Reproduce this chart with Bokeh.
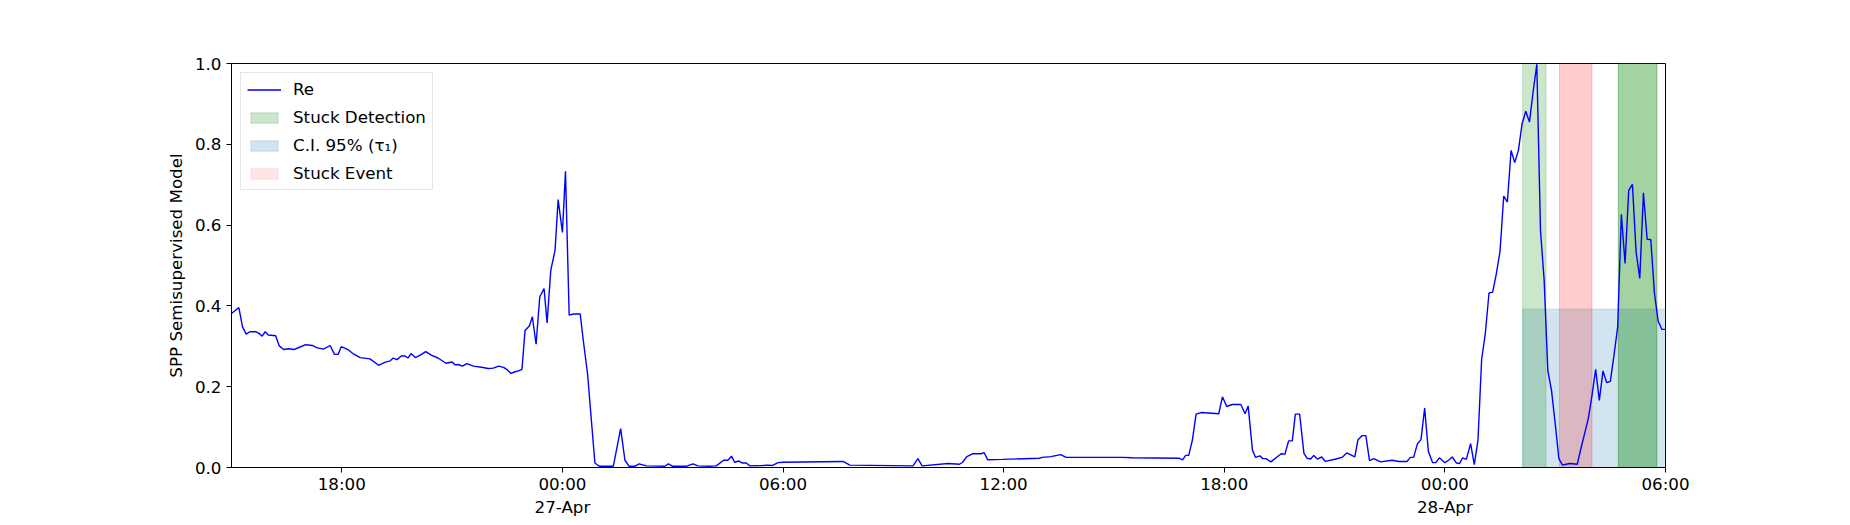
import pandas as pd
from bokeh.plotting import figure
from bokeh.models import (ColumnDataSource, Range1d, FixedTicker, NumeralTickFormatter,
                          Legend, LegendItem, Label)
from bokeh.embed import file_html
from bokeh.resources import INLINE

day26_times = ["15:00", "15:12", "15:18", "15:24", "15:30", "15:40", "15:45", "15:50", "15:55",
               "16:00", "16:12", "16:18", "16:25", "16:33", "16:42", "16:50", "17:01", "17:12",
               "17:20", "17:30", "17:41", "17:48", "17:54", "17:59", "18:11", "18:19", "18:30",
               "18:46", "19:00", "19:11", "19:19", "19:24", "19:30", "19:37", "19:43", "19:48",
               "19:53", "20:00", "20:08", "20:17", "20:26", "20:37", "20:50", "21:00", "21:05",
               "21:10", "21:17", "21:24", "21:35", "21:48", "21:59", "22:07", "22:16", "22:24",
               "22:29", "22:36", "22:43", "22:48", "22:54", "22:59", "23:06", "23:11", "23:17",
               "23:23", "23:30", "23:35", "23:41", "23:48", "23:53"]
day26_values = [0.381, 0.396, 0.348, 0.330, 0.336, 0.336, 0.332, 0.325, 0.336,
                0.328, 0.326, 0.301, 0.292, 0.294, 0.292, 0.297, 0.304, 0.302,
                0.296, 0.293, 0.302, 0.280, 0.280, 0.299, 0.291, 0.281, 0.272,
                0.269, 0.253, 0.261, 0.264, 0.271, 0.267, 0.276, 0.276, 0.271,
                0.282, 0.272, 0.278, 0.287, 0.278, 0.271, 0.258, 0.261, 0.254,
                0.255, 0.251, 0.257, 0.251, 0.248, 0.245, 0.246, 0.251, 0.248,
                0.243, 0.233, 0.237, 0.239, 0.243, 0.339, 0.350, 0.373, 0.305,
                0.422, 0.443, 0.358, 0.488, 0.538, 0.663]

day27_times = ["00:00", "00:05", "00:11", "00:18", "00:29", "00:34", "00:41", "00:53", "01:00",
               "01:23", "01:35", "01:42", "01:49", "01:58", "02:05", "02:17", "02:47", "02:53",
               "03:00", "03:22", "03:33", "03:41", "04:00", "04:11", "04:23", "04:30", "04:36",
               "04:41", "04:48", "04:54", "05:00", "05:06", "05:27", "05:35", "05:43", "05:52",
               "06:00", "07:38", "07:49", "09:32", "09:40", "09:47", "10:29", "10:48", "10:53",
               "11:00", "11:09", "11:23", "11:28", "11:34", "11:58", "12:58", "13:03", "13:17",
               "13:33", "13:42", "15:14", "15:30", "16:46", "16:52", "16:57", "17:02", "17:08",
               "17:14", "17:22", "17:51", "17:57", "18:04", "18:13", "18:27", "18:34", "18:39",
               "18:46", "18:51", "18:58", "19:03", "19:08", "19:16", "19:26", "19:33", "19:39",
               "19:45", "19:51", "19:56", "20:03", "20:10", "20:15", "20:21", "20:26", "20:32",
               "20:39", "20:45", "21:02", "21:12", "21:20", "21:33", "21:38", "21:45", "21:51",
               "21:57", "22:04", "22:15", "22:34", "22:45", "22:58", "23:04", "23:09", "23:15",
               "23:21", "23:27", "23:33", "23:40", "23:45", "23:51"]
day27_values = [0.582, 0.733, 0.377, 0.380, 0.380, 0.315, 0.232, 0.011, 0.003,
                0.003, 0.096, 0.018, 0.003, 0.003, 0.009, 0.004, 0.003, 0.009,
                0.003, 0.003, 0.009, 0.004, 0.003, 0.004, 0.018, 0.018, 0.028,
                0.013, 0.016, 0.011, 0.011, 0.004, 0.005, 0.006, 0.005, 0.012,
                0.013, 0.015, 0.006, 0.004, 0.022, 0.004, 0.010, 0.008, 0.013,
                0.027, 0.034, 0.034, 0.037, 0.019, 0.020, 0.023, 0.025, 0.027,
                0.032, 0.025, 0.025, 0.024, 0.023, 0.019, 0.030, 0.030, 0.068,
                0.132, 0.136, 0.133, 0.175, 0.151, 0.156, 0.156, 0.133, 0.152,
                0.043, 0.025, 0.029, 0.022, 0.022, 0.014, 0.026, 0.034, 0.033,
                0.066, 0.066, 0.132, 0.132, 0.035, 0.023, 0.021, 0.030, 0.021,
                0.026, 0.015, 0.021, 0.025, 0.036, 0.026, 0.068, 0.079, 0.079,
                0.017, 0.022, 0.014, 0.018, 0.015, 0.015, 0.025, 0.025, 0.058,
                0.069, 0.147, 0.040, 0.012, 0.012, 0.024]

day28_times = ["00:00", "00:06", "00:12", "00:19", "00:24", "00:29", "00:35", "00:42", "00:48",
               "00:54", "01:00", "01:06", "01:12", "01:18", "01:24", "01:30", "01:36", "01:42",
               "01:48", "01:54", "02:00", "02:06", "02:12", "02:18", "02:24", "02:30", "02:36",
               "02:42", "02:48", "02:54", "03:00", "03:06", "03:12", "03:18", "03:24", "03:36",
               "03:42", "03:48", "03:54", "04:00", "04:06", "04:12", "04:18", "04:24", "04:30",
               "04:36", "04:42", "04:48", "04:54", "05:00", "05:06", "05:12", "05:18", "05:24",
               "05:30", "05:36", "05:42", "05:48", "05:54", "06:00"]
day28_values = [0.012, 0.018, 0.026, 0.011, 0.010, 0.024, 0.020, 0.059, 0.007,
                0.068, 0.268, 0.332, 0.432, 0.434, 0.480, 0.535, 0.672, 0.657,
                0.785, 0.755, 0.785, 0.851, 0.882, 0.855, 0.930, 0.998, 0.587,
                0.463, 0.239, 0.191, 0.109, 0.022, 0.006, 0.008, 0.010, 0.008,
                0.047, 0.084, 0.121, 0.178, 0.243, 0.166, 0.239, 0.210, 0.213,
                0.278, 0.348, 0.627, 0.505, 0.686, 0.701, 0.534, 0.468, 0.680,
                0.565, 0.564, 0.431, 0.362, 0.342, 0.342]

# stuck detections (second window flagged twice), stuck event, confidence interval
detect_start = ["1900-04-28 02:07", "1900-04-28 04:43", "1900-04-28 04:43"]
detect_end = ["1900-04-28 02:45", "1900-04-28 05:46", "1900-04-28 05:46"]
event_start = ["1900-04-28 03:07"]
event_end = ["1900-04-28 04:00"]
ci_start = ["1900-04-28 02:07"]
ci_end = ["1900-04-28 06:00"]
ci_upper = [0.392]

x_start, x_end = "1900-04-26 15:00", "1900-04-28 06:00"
tick_times = ["1900-04-26 18:00", "1900-04-27 00:00", "1900-04-27 06:00", "1900-04-27 12:00",
              "1900-04-27 18:00", "1900-04-28 00:00", "1900-04-28 06:00"]
tick_labels = ["18:00", "00:00\n27-Apr", "06:00", "12:00", "18:00", "00:00\n28-Apr", "06:00"]
year_label = "1900"


def ms(s):
    return int(pd.Timestamp(s).value // 10**6)


def stamps(day, times):
    return pd.to_datetime([f"1900-04-{day} {t}" for t in times])


x = stamps(26, day26_times).append(stamps(27, day27_times)).append(stamps(28, day28_times))
y = day26_values + day27_values + day28_values
source = ColumnDataSource(data=dict(x=x, y=y))

FONT = "DejaVu Sans"
SIZE = "16.7px"

p = figure(width=1850, height=525, x_axis_type="datetime",
           x_range=Range1d(ms(x_start), ms(x_end)), y_range=Range1d(0, 1),
           output_backend="svg", toolbar_location=None,
           min_border_left=231, min_border_right=185, min_border_top=63, min_border_bottom=58)

# shaded windows
ci = p.quad(left=pd.to_datetime(ci_start), right=pd.to_datetime(ci_end), bottom=0, top=ci_upper,
            fill_color="#1f77b4", fill_alpha=0.2, line_color="#1f77b4", line_alpha=0.2)
det = [p.quad(left=[pd.Timestamp(s)], right=[pd.Timestamp(e)], bottom=0, top=1,
              fill_color="green", fill_alpha=0.2, line_color="green", line_alpha=0.2)
       for s, e in zip(detect_start, detect_end)]
# event drawn twice, as in the original figure
evt = [p.quad(left=pd.to_datetime(event_start), right=pd.to_datetime(event_end), bottom=0, top=1,
              fill_color="red", fill_alpha=0.1, line_color="red", line_alpha=0.1)
       for _ in range(2)]

line = p.line('x', 'y', source=source, color="blue", line_width=1.4)

legend = Legend(items=[LegendItem(label="Re", renderers=[line]),
                       LegendItem(label="Stuck Detection", renderers=[det[0]]),
                       LegendItem(label="C.I. 95% (τ₁)", renderers=[ci]),
                       LegendItem(label="Stuck Event", renderers=[evt[0]])],
                location="top_left", margin=9, padding=6, spacing=8,
                label_height=19, glyph_height=13, glyph_width=34, label_standoff=12,
                label_text_font=FONT, label_text_font_size=SIZE, label_text_color="black",
                border_line_color="#cccccc", border_line_width=1,
                background_fill_alpha=0.8)
p.add_layout(legend)

# axes
p.grid.visible = False
p.outline_line_color = "black"
p.outline_line_alpha = 1
p.outline_line_width = 1
p.axis.axis_line_color = "black"
p.axis.major_tick_line_color = "black"
p.axis.major_tick_in = 0
p.axis.major_tick_out = 5
p.axis.minor_tick_line_color = None
p.axis.major_label_text_font = FONT
p.axis.major_label_text_font_size = SIZE
p.axis.major_label_text_color = "black"

p.xaxis.ticker = FixedTicker(ticks=[ms(t) for t in tick_times])
p.xaxis.major_label_overrides = {ms(t): lab for t, lab in zip(tick_times, tick_labels)}
p.xaxis.major_label_standoff = 1
p.xaxis.major_label_text_line_height = 1.18

# third line of the first date label, cut by the bottom edge as in the original
p.add_layout(Label(x=ms(tick_times[1]), y=-50, y_units="screen", text=year_label,
                   text_align="center", text_baseline="top", text_font=FONT,
                   text_font_size=SIZE, text_color="black"))

p.yaxis.ticker = FixedTicker(ticks=[0, 0.2, 0.4, 0.6, 0.8, 1.0])
p.yaxis.formatter = NumeralTickFormatter(format="0.0")
p.yaxis.major_label_standoff = 5
p.yaxis.axis_label = "SPP Semisupervised Model"
p.yaxis.axis_label_text_font = FONT
p.yaxis.axis_label_text_font_size = SIZE
p.yaxis.axis_label_text_font_style = "normal"
p.yaxis.axis_label_text_color = "black"
p.yaxis.axis_label_standoff = 6

open("out.html", "w").write(file_html(p, INLINE))
